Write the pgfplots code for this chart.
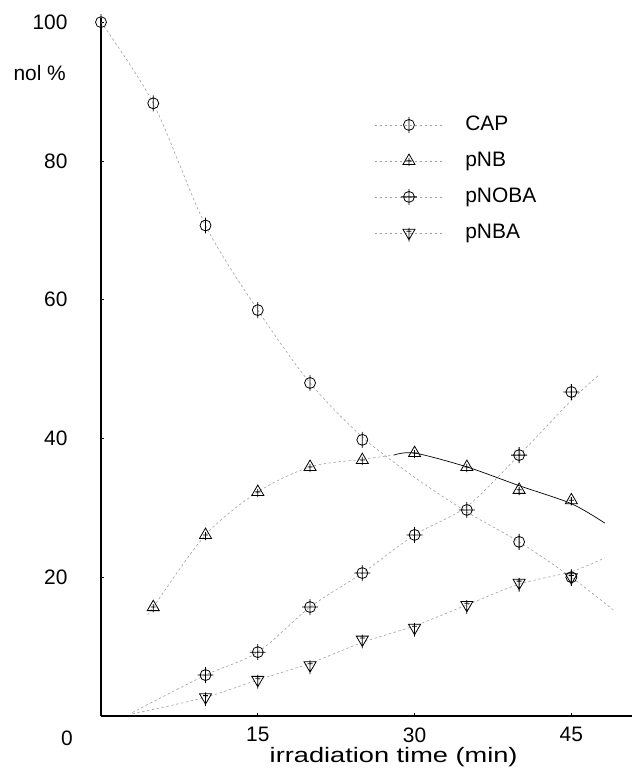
\documentclass[border=0pt]{standalone}
\usepackage{fontspec}
\setmainfont{Liberation Sans}
\usepackage{graphicx}
\usepackage{pgfplots}
\pgfplotsset{compat=1.18}

\pgfdeclareplotmark{capm}{%
  \pgfpathcircle{\pgfpointorigin}{\pgfplotmarksize}%
  \pgfpathmoveto{\pgfqpoint{0pt}{-1.45\pgfplotmarksize}}%
  \pgfpathlineto{\pgfqpoint{0pt}{1.45\pgfplotmarksize}}%
  \pgfusepathqstroke}
\pgfdeclareplotmark{pnbm}{%
  \pgfpathmoveto{\pgfqpoint{0pt}{1.25\pgfplotmarksize}}%
  \pgfpathlineto{\pgfqpoint{-1.1\pgfplotmarksize}{-0.65\pgfplotmarksize}}%
  \pgfpathlineto{\pgfqpoint{1.1\pgfplotmarksize}{-0.65\pgfplotmarksize}}%
  \pgfpathclose
  \pgfpathmoveto{\pgfqpoint{0pt}{-0.95\pgfplotmarksize}}%
  \pgfpathlineto{\pgfqpoint{0pt}{0.55\pgfplotmarksize}}%
  \pgfpathmoveto{\pgfqpoint{-0.45\pgfplotmarksize}{0pt}}%
  \pgfpathlineto{\pgfqpoint{0.45\pgfplotmarksize}{0pt}}%
  \pgfusepathqstroke}
\pgfdeclareplotmark{pnobam}{%
  \pgfpathcircle{\pgfpointorigin}{\pgfplotmarksize}%
  \pgfpathmoveto{\pgfqpoint{0pt}{-1.45\pgfplotmarksize}}%
  \pgfpathlineto{\pgfqpoint{0pt}{1.45\pgfplotmarksize}}%
  \pgfpathmoveto{\pgfqpoint{-1.45\pgfplotmarksize}{0pt}}%
  \pgfpathlineto{\pgfqpoint{1.45\pgfplotmarksize}{0pt}}%
  \pgfusepathqstroke}
\pgfdeclareplotmark{pnbam}{%
  \pgfpathmoveto{\pgfqpoint{0pt}{-1.25\pgfplotmarksize}}%
  \pgfpathlineto{\pgfqpoint{-1.1\pgfplotmarksize}{0.65\pgfplotmarksize}}%
  \pgfpathlineto{\pgfqpoint{1.1\pgfplotmarksize}{0.65\pgfplotmarksize}}%
  \pgfpathclose
  \pgfpathmoveto{\pgfqpoint{0pt}{-1.6\pgfplotmarksize}}%
  \pgfpathlineto{\pgfqpoint{0pt}{0.9\pgfplotmarksize}}%
  \pgfpathmoveto{\pgfqpoint{-0.45\pgfplotmarksize}{0.3\pgfplotmarksize}}%
  \pgfpathlineto{\pgfqpoint{0.45\pgfplotmarksize}{0.3\pgfplotmarksize}}%
  \pgfusepathqstroke}

\pgfplotsset{
  curve/.style={forget plot, no marks, smooth, tension=0.5, gray!75, line width=0.6pt, dash pattern=on 2.5pt off 2.5pt},
  pts/.style={only marks, black, line width=0.8pt, mark size=5.5pt, mark options={solid}},
}

\begin{document}
\begin{tikzpicture}
\useasboundingbox (-101bp,-54bp) rectangle (531bp,716bp);
\begin{axis}[
  at={(0,0)}, anchor=south west,
  scale only axis, width=531bp, height=698bp,
  xmin=0, xmax=50.8, ymin=0, ymax=100.6,
  axis x line*=bottom, axis y line*=left,
  axis line style={line width=1.3pt, black},
  xtick={15,30,45}, ytick={20,40,60,80,100},
  major tick length=3pt, tick style={black, line width=0.6pt},
  /pgf/number format/assume math mode=true,
  ticklabel style={font=\fontsize{21}{24}\selectfont},
  yticklabel style={xshift=-30bp},
  xticklabel style={yshift=-8bp},
  clip=false,
  legend style={at={(0.515,0.865)}, anchor=north west, draw=none, fill=none,
    font=\fontsize{21}{25}\selectfont, row sep=11bp, inner sep=0pt,
    nodes={inner sep=2pt, text height=16bp, text depth=5bp}},
  legend cell align=left,
  legend image code/.code={%
    \draw[gray!75, line width=0.6pt, dash pattern=on 2.5pt off 2.5pt] (0bp,0bp) -- (68bp,0bp);
    \draw[#1] plot coordinates {(34bp,0bp)};
    \path (88bp,0bp);},
]
% lines
\addplot[curve] coordinates {(0,100) (5,88.3) (10,70.7) (15,58.5) (20,48.0) (25,40.2) (30,34.4) (35,29.4) (40,25.1) (45,20.0) (49,15.3)};
\addplot[curve] coordinates {(4.5,14.7) (5,15.7) (10,26.1) (15,32.3) (20,35.9) (25,37.0) (28,37.6)};
\addplot[forget plot, no marks, smooth, tension=0.5, black, line width=0.7pt] coordinates {(28,37.6) (30,37.9) (35,35.9) (40,33.2) (45,30.6) (48.2,27.8)};
\addplot[curve] coordinates {(3,0.5) (10,5.9) (15,9.2) (20,15.7) (25,20.6) (30,26.1) (35,30.2) (40,37.6) (45,45.5) (47.6,49.1)};
\addplot[curve] coordinates {(3,0.3) (10,2.7) (15,5.2) (20,7.6) (25,10.6) (30,13.0) (35,16.0) (40,19.0) (45,20.8) (48.2,22.8)};
% marks
\addplot[pts, mark=capm] coordinates {(0,100) (5,88.3) (10,70.7) (15,58.5) (20,48.0) (25,39.8) (40,25.1) (45,20.0)};
\addlegendentry{CAP}
\addplot[pts, mark=pnbm] coordinates {(5,15.7) (10,26.1) (15,32.3) (20,35.9) (25,36.9) (30,37.9) (35,35.9) (40,32.6) (45,31.1)};
\addlegendentry{pNB}
\addplot[pts, mark=pnobam] coordinates {(10,5.9) (15,9.2) (20,15.7) (25,20.6) (30,26.1) (35,29.7) (40,37.6) (45,46.7)};
\addlegendentry{pNOBA}
\addplot[pts, mark=pnbam] coordinates {(10,2.7) (15,5.2) (20,7.3) (25,11.0) (30,12.7) (35,16.0) (40,19.2) (45,20.0)};
\addlegendentry{pNBA}
% texts
\node[anchor=west, font=\fontsize{21}{24}\selectfont] at (rel axis cs:0,0) [xshift=-91bp, yshift=643bp] {nol \%};
\node[font=\fontsize{21}{24}\selectfont] at (rel axis cs:0,0) [xshift=-34bp, yshift=-22bp] {0};
\node[font=\fontsize{21}{24}\selectfont] at (axis cs:28.0,0) [yshift=-41bp] {\scalebox{1.3}[1]{irradiation time (min)}};
\end{axis}
\end{tikzpicture}
\end{document}
